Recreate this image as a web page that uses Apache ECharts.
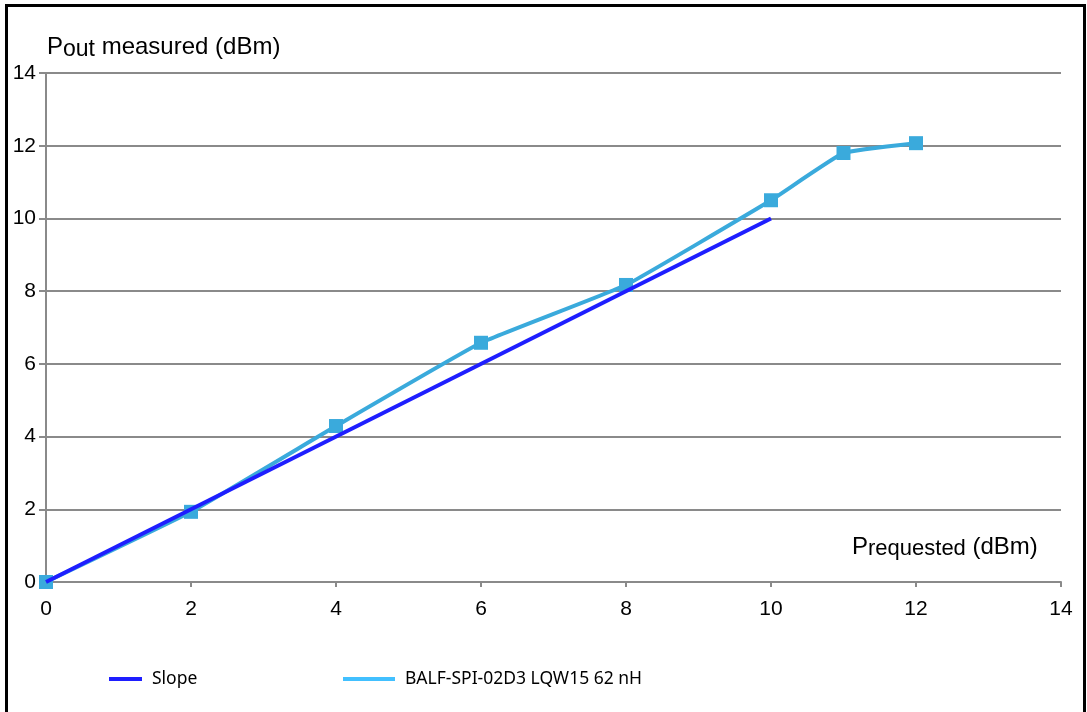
<!DOCTYPE html>
<html>
<head>
<meta charset="utf-8">
<script src="https://cdn.jsdelivr.net/npm/echarts@6/dist/echarts.min.js"></script>
<style>html,body{margin:0;padding:0;background:#fff}#c{width:1087px;height:712px}</style>
</head>
<body>
<div id="c"></div>
<script>
const xTicks = [0, 2, 4, 6, 8, 10, 12, 14];
const yTicks = [0, 2, 4, 6, 8, 10, 12, 14];
const slopeX = [0, 10];
const slopeY = [0, 10];
const measX = [0, 2, 4, 6, 8, 10, 11, 12];
const measY = [0, 1.93, 4.29, 6.58, 8.17, 10.5, 11.8, 12.07];
const slopeName = 'Slope';
const measName = 'BALF-SPI-02D3 LQW15 62 nH';

const chart = echarts.init(document.getElementById('c'));
const gray = '#8a8a8a';
const lblFont = "'Liberation Sans', Arial, sans-serif";
const legFont = "'Noto Sans', sans-serif";
chart.setOption({
  animation: false,
  backgroundColor: '#fff',
  grid: { left: 46, right: 26, top: 73, bottom: 130 },
  xAxis: {
    type: 'value', min: 0, max: 14, interval: 2,
    axisLine: { show: true, lineStyle: { color: gray, width: 2 } },
    axisTick: { show: true, length: 5, lineStyle: { color: gray, width: 2 } },
    axisLabel: { color: '#000', fontSize: 21, fontFamily: lblFont, margin: 17 },
    splitLine: { show: false }
  },
  yAxis: {
    type: 'value', min: 0, max: 14, interval: 2,
    axisLine: { show: true, lineStyle: { color: gray, width: 2 } },
    axisTick: { show: true, length: 7, lineStyle: { color: gray, width: 2 } },
    axisLabel: { color: '#000', fontSize: 21, fontFamily: lblFont, margin: 10 },
    splitLine: { show: true, lineStyle: { color: gray, width: 2 } }
  },
  legend: [
    { data: [slopeName], left: 109, top: 670, padding: 0, icon: 'rect', itemWidth: 33, itemHeight: 4,
      textStyle: { fontFamily: legFont, fontSize: 17.5, color: '#000', padding: [0,0,0,5] } },
    { data: [{ name: measName, itemStyle: { color: '#42c0ff' } }], left: 343, top: 670, padding: 0, icon: 'rect', itemWidth: 52, itemHeight: 4,
      textStyle: { fontFamily: legFont, fontSize: 17.5, color: '#000', padding: [0,0,0,5] } }
  ],
  series: [
    { name: measName, type: 'line', z: 2,
      data: measX.map((x, i) => [x, measY[i]]),
      smooth: 0.1,
      symbol: 'rect', symbolSize: 14,
      lineStyle: { color: '#3aaadc', width: 4 },
      itemStyle: { color: '#3aaadc' } },
    { name: slopeName, type: 'line', z: 3,
      data: slopeX.map((x, i) => [x, slopeY[i]]),
      symbol: 'none',
      lineStyle: { color: '#1e1eff', width: 4 },
      itemStyle: { color: '#1e1eff' } }
  ],
  graphic: [
    { type: 'rect', shape: { x: 6.5, y: 5.5, width: 1078, height: 730 }, style: { fill: 'none', stroke: '#000', lineWidth: 3 }, silent: true },
    { type: 'text', left: 47, top: 35, style: {
      text: '{p|P}{s|out}{p| measured (dBm)}',
      rich: {
        p: { fontSize: 24, fontFamily: lblFont, fill: '#000', lineHeight: 27, verticalAlign: 'top' },
        s: { fontSize: 23, fontFamily: lblFont, fill: '#000', lineHeight: 27, padding: [3,0,0,0], verticalAlign: 'top' }
      } } },
    { type: 'text', left: 852, top: 535, style: {
      text: '{p|P}{s|requested}{p| (dBm)}',
      rich: {
        p: { fontSize: 24, fontFamily: lblFont, fill: '#000', lineHeight: 27, verticalAlign: 'top' },
        s: { fontSize: 22, fontFamily: lblFont, fill: '#000', lineHeight: 27, padding: [3,0,0,0], verticalAlign: 'top' }
      } } }
  ]
});
</script>
</body>
</html>
